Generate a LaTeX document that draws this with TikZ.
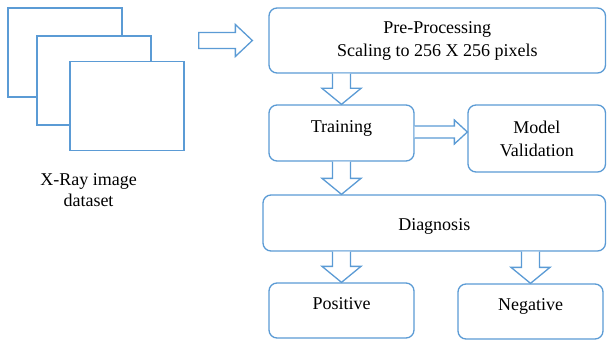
\documentclass[tikz,border=0pt]{standalone}
\usepackage{fontspec}
\setmainfont{Liberation Serif}
\usetikzlibrary{calc}
\definecolor{lineblue}{HTML}{5B9BD5}
\tikzset{
  box/.style={draw=lineblue, line width=1.3pt, rounded corners=8pt, fill=white,
    align=center, font=\fontsize{18}{23}\selectfont, inner sep=2pt},
  sheet/.style={draw=lineblue, line width=1.3pt, fill=white, minimum width=114pt, minimum height=89pt, inner sep=0pt},
  barrow/.style={draw=lineblue, line width=1.3pt, line join=miter, fill=white},
  lbl/.style={align=center, font=\fontsize{18}{21}\selectfont}
}
% #1 source, #2 target, #3 node giving the x position
\newcommand\blockdown[3]{%
  \draw[barrow] let \p1=(#1.south), \p2=(#2.north), \p3=(#3.center) in
    (\x3-9pt,\y1) -- (\x3-9pt,\y2+16pt) -- (\x3-19.5pt,\y2+16pt) -- (\x3,\y2)
    -- (\x3+19.5pt,\y2+16pt) -- (\x3+9pt,\y2+16pt) -- (\x3+9pt,\y1);}
\begin{document}
\begin{tikzpicture}[x=1pt,y=-1pt]
\useasboundingbox (0,0) rectangle (607,342);
% stacked sheets
\node[sheet] (s1) at (65,52.5) {};
\node[sheet] (s2) at (94,80.5) {};
\node[sheet] (s3) at (127,106) {};
\node[lbl] (data) at (88.5,190) {X-Ray image\\dataset};
% boxes
\node[box, minimum width=336.5pt, minimum height=65pt] (pre) at (437.25,40.5)
  {Pre-Processing\\Scaling to 256 X 256 pixels};
\node[box, minimum width=145pt, minimum height=56pt, text depth=13pt] (train) at (341.5,133) {Training};
\node[box, minimum width=137.5pt, minimum height=67pt] (model) at (536.75,138.5) {Model\\Validation};
\node[box, minimum width=342.5pt, minimum height=56pt, text height=18pt] (diag) at (434.25,223) {Diagnosis};
\node[box, minimum width=145pt, minimum height=55pt, text depth=14pt] (pos) at (341.5,310.5) {Positive};
\node[box, minimum width=145pt, minimum height=55pt, text depth=14pt] (neg) at (530.5,311.5) {Negative};
% dataset -> pre
\draw[barrow] let \p1=(s3.east), \p2=(pre.west) in
  (\x1+14pt,\y2+8pt) -- (\x2-33pt,\y2+8pt) -- (\x2-33pt,\y2+16pt) -- (\x2-16pt,\y2)
  -- (\x2-33pt,\y2-16pt) -- (\x2-33pt,\y2-8pt) -- (\x1+14pt,\y2-8pt) -- cycle;
% training -> model
\draw[barrow] let \p1=(train.east), \p2=(model.west) in
  (\x1,\y1+7pt) -- (\x2-13pt,\y1+7pt) -- (\x2-13pt,\y1+13pt) -- (\x2,\y1+1pt)
  -- (\x2-13pt,\y1-11pt) -- (\x2-13pt,\y1-5pt) -- (\x1,\y1-5pt);
% vertical block arrows
\blockdown{pre}{train}{train}
\blockdown{train}{diag}{train}
\blockdown{diag}{pos}{pos}
\blockdown{diag}{neg}{neg}
\end{tikzpicture}
\end{document}
